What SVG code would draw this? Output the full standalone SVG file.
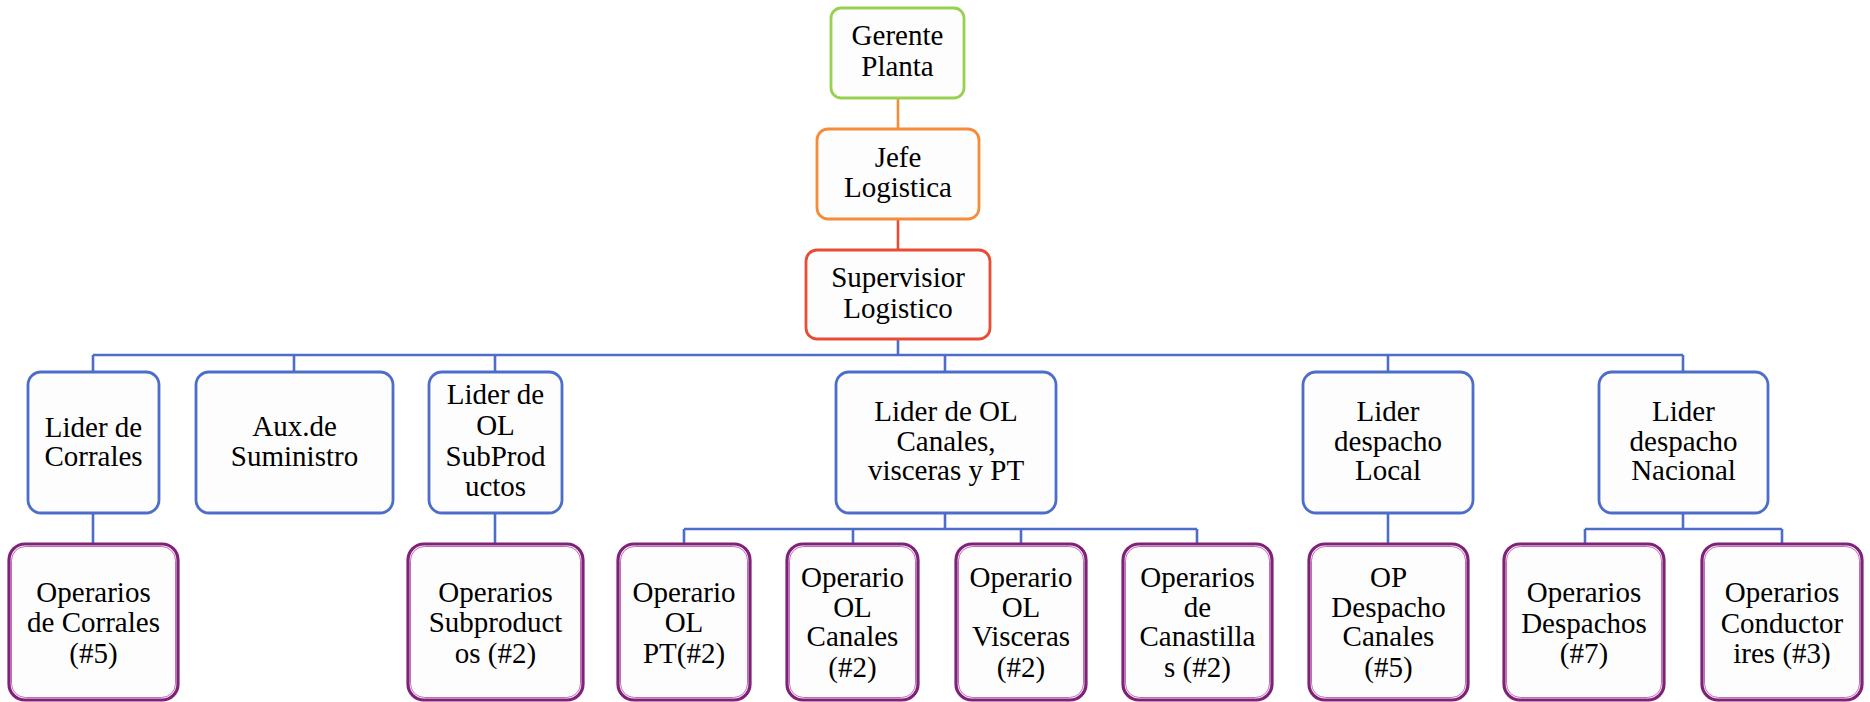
<svg xmlns="http://www.w3.org/2000/svg" width="1870" height="702" viewBox="0 0 1870 702" font-family="'Liberation Serif', 'Times New Roman', 'DejaVu Serif', serif">
  <style>
    text { font-family: "Liberation Serif", "Times New Roman", "DejaVu Serif", serif; font-size: 29px; fill: #000; text-anchor: middle; }
    .box { fill: #fdfdfd; stroke-width: 2.8; }
    .green { stroke: #97d14f; }
    .orange { stroke: #f68c3a; }
    .red { stroke: #e94b33; }
    .blue { stroke: #4c6dc9; }
    .purple { stroke: #7f2277; stroke-width: 3.2; }
    .purple-in { fill: none; stroke: #c46ab9; stroke-width: 1; }
    .wire { fill: none; stroke-width: 2.6; }
  </style>

  <!-- connectors -->
  <g id="connectors">
    <line class="wire orange" x1="898" y1="98" x2="898" y2="129"/>
    <line class="wire red" x1="898" y1="219" x2="898" y2="250"/>
    <path class="wire blue" d="M898 339 V355 M93 355 H1683 M93 355 V372 M294 355 V372 M495 355 V372 M945 355 V372 M1388 355 V372 M1683 355 V372"/>
    <path class="wire blue" d="M93 513 V544 M495 513 V544 M1388 513 V544"/>
    <path class="wire blue" d="M945 513 V529 M684 529 H1197 M684 529 V544 M853 529 V544 M1021 529 V544 M1197 529 V544"/>
    <path class="wire blue" d="M1683 513 V529 M1585 529 H1782 M1585 529 V544 M1782 529 V544"/>
  </g>

  <!-- top chain -->
  <g id="gerente-planta">
    <rect class="box green" x="831" y="8" width="133" height="90" rx="10"/>
    <text x="897.5" y="45">Gerente</text>
    <text x="897.5" y="76">Planta</text>
  </g>
  <g id="jefe-logistica">
    <rect class="box orange" x="817" y="129" width="162" height="90" rx="11"/>
    <text x="898" y="167">Jefe</text>
    <text x="898" y="197">Logistica</text>
  </g>
  <g id="supervisor-logistico">
    <rect class="box red" x="806" y="250" width="184" height="89" rx="11"/>
    <text x="898" y="287">Supervisior</text>
    <text x="898" y="318">Logistico</text>
  </g>

  <!-- leaders -->
  <g id="lider-corrales">
    <rect class="box blue" x="28" y="372" width="131" height="141" rx="13"/>
    <text x="93.5" y="437">Lider de</text>
    <text x="93.5" y="466">Corrales</text>
  </g>
  <g id="aux-suministro">
    <rect class="box blue" x="196" y="372" width="197" height="141" rx="13"/>
    <text x="294.5" y="436">Aux.de</text>
    <text x="294.5" y="466">Suministro</text>
  </g>
  <g id="lider-subproductos">
    <rect class="box blue" x="429" y="372" width="133" height="141" rx="13"/>
    <text x="495.5" y="404">Lider de</text>
    <text x="495.5" y="435">OL</text>
    <text x="495.5" y="466">SubProd</text>
    <text x="495.5" y="496">uctos</text>
  </g>
  <g id="lider-canales">
    <rect class="box blue" x="836" y="372" width="220" height="141" rx="13"/>
    <text x="946" y="421">Lider de OL</text>
    <text x="946" y="451">Canales,</text>
    <text x="946" y="480">visceras y PT</text>
  </g>
  <g id="lider-despacho-local">
    <rect class="box blue" x="1303" y="372" width="170" height="141" rx="13"/>
    <text x="1388" y="421">Lider</text>
    <text x="1388" y="451">despacho</text>
    <text x="1388" y="480">Local</text>
  </g>
  <g id="lider-despacho-nacional">
    <rect class="box blue" x="1599" y="372" width="169" height="141" rx="13"/>
    <text x="1683.5" y="421">Lider</text>
    <text x="1683.5" y="451">despacho</text>
    <text x="1683.5" y="480">Nacional</text>
  </g>

  <!-- operators -->
  <g id="operarios-corrales">
    <rect class="box purple" x="9" y="544" width="169" height="156" rx="16"/>
    <rect class="purple-in" x="11.5" y="546.5" width="164" height="151" rx="14"/>
    <text x="93.5" y="602">Operarios</text>
    <text x="93.5" y="632">de Corrales</text>
    <text x="93.5" y="663">(#5)</text>
  </g>
  <g id="operarios-subproductos">
    <rect class="box purple" x="408" y="544" width="175" height="156" rx="16"/>
    <rect class="purple-in" x="410.5" y="546.5" width="170" height="151" rx="14"/>
    <text x="495.5" y="602">Operarios</text>
    <text x="495.5" y="632">Subproduct</text>
    <text x="495.5" y="663">os (#2)</text>
  </g>
  <g id="operario-pt">
    <rect class="box purple" x="618" y="544" width="132" height="156" rx="16"/>
    <rect class="purple-in" x="620.5" y="546.5" width="127" height="151" rx="14"/>
    <text x="684" y="602">Operario</text>
    <text x="684" y="632">OL</text>
    <text x="684" y="663">PT(#2)</text>
  </g>
  <g id="operario-canales">
    <rect class="box purple" x="787" y="544" width="131" height="156" rx="16"/>
    <rect class="purple-in" x="789.5" y="546.5" width="126" height="151" rx="14"/>
    <text x="852.5" y="587">Operario</text>
    <text x="852.5" y="617">OL</text>
    <text x="852.5" y="646">Canales</text>
    <text x="852.5" y="677">(#2)</text>
  </g>
  <g id="operario-visceras">
    <rect class="box purple" x="956" y="544" width="130" height="156" rx="16"/>
    <rect class="purple-in" x="958.5" y="546.5" width="125" height="151" rx="14"/>
    <text x="1021" y="587">Operario</text>
    <text x="1021" y="617">OL</text>
    <text x="1021" y="646">Visceras</text>
    <text x="1021" y="677">(#2)</text>
  </g>
  <g id="operarios-canastillas">
    <rect class="box purple" x="1123" y="544" width="149" height="156" rx="16"/>
    <rect class="purple-in" x="1125.5" y="546.5" width="144" height="151" rx="14"/>
    <text x="1197.5" y="587">Operarios</text>
    <text x="1197.5" y="617">de</text>
    <text x="1197.5" y="646">Canastilla</text>
    <text x="1197.5" y="677">s (#2)</text>
  </g>
  <g id="op-despacho-canales">
    <rect class="box purple" x="1309" y="544" width="159" height="156" rx="16"/>
    <rect class="purple-in" x="1311.5" y="546.5" width="154" height="151" rx="14"/>
    <text x="1388.5" y="587">OP</text>
    <text x="1388.5" y="617">Despacho</text>
    <text x="1388.5" y="646">Canales</text>
    <text x="1388.5" y="677">(#5)</text>
  </g>
  <g id="operarios-despachos">
    <rect class="box purple" x="1504" y="544" width="160" height="156" rx="16"/>
    <rect class="purple-in" x="1506.5" y="546.5" width="155" height="151" rx="14"/>
    <text x="1584" y="602">Operarios</text>
    <text x="1584" y="633">Despachos</text>
    <text x="1584" y="663">(#7)</text>
  </g>
  <g id="operarios-conductores">
    <rect class="box purple" x="1702" y="544" width="160" height="156" rx="16"/>
    <rect class="purple-in" x="1704.5" y="546.5" width="155" height="151" rx="14"/>
    <text x="1782" y="602">Operarios</text>
    <text x="1782" y="633">Conductor</text>
    <text x="1782" y="663">ires (#3)</text>
  </g>
</svg>
